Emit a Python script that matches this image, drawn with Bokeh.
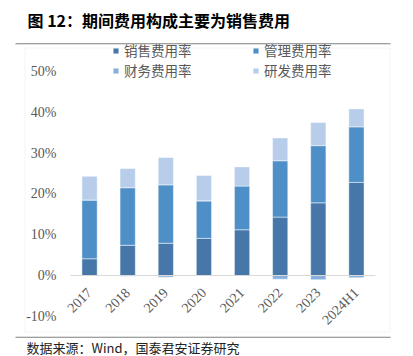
import math
from bokeh.plotting import figure
from bokeh.models import (Range1d, FixedTicker, PrintfTickFormatter,
                          Legend, LegendItem, Label, BoxAnnotation, ColumnDataSource)
from bokeh.embed import file_html
from bokeh.resources import INLINE

years = ["2017", "2018", "2019", "2020", "2021", "2022", "2023", "2024H1"]
sales = [4.1, 7.4, 7.9, 9.1, 11.2, 14.3, 17.8, 22.8]
mgmt = [14.4, 14.1, 14.3, 9.2, 10.7, 13.8, 14.0, 13.6]
finance = [0.0, -0.2, -0.4, 0.0, -0.1, -0.9, -1.05, -0.55]
rnd = [5.8, 4.7, 6.7, 6.2, 4.7, 5.6, 5.7, 4.4]

series_names = ["销售费用率", "管理费用率", "财务费用率", "研发费用率"]
series_vals = [sales, mgmt, finance, rnd]
colors = ["#4677A8", "#4F8FC7", "#87B0DE", "#B7CDEA"]
y_ticks = [-10, 0, 10, 20, 30, 40, 50]

CJK = "Noto Sans CJK SC"
SERIF = "Liberation Serif"

W, H = 413, 356
xpos = list(range(len(years)))

p = figure(width=W, height=H, output_backend="svg", toolbar_location=None,
           x_range=Range1d(-2.336, 8.497), y_range=Range1d(-19.84, 67.35),
           min_border_left=0, min_border_right=0, min_border_top=0, min_border_bottom=0)
p.outline_line_color = None
p.xgrid.grid_line_color = None
p.ygrid.grid_line_color = None

# stack: positives upward, negatives downward (Excel style)
pos_base = [0.0] * len(years)
neg_base = [0.0] * len(years)
renderers = []
for name, vals, col in zip(series_names, series_vals, colors):
    bottoms, tops = [], []
    for i, v in enumerate(vals):
        if v >= 0:
            bottoms.append(pos_base[i]); tops.append(pos_base[i] + v); pos_base[i] += v
        else:
            bottoms.append(neg_base[i]); tops.append(neg_base[i] + v); neg_base[i] += v
    src = ColumnDataSource(dict(x=xpos, bottom=bottoms, top=tops))
    r = p.vbar(x="x", bottom="bottom", top="top", width=0.4, source=src,
               fill_color=col, line_color="white", line_width=0.8, line_alpha=0.6)
    renderers.append(r)

# axes
xa = p.xaxis[0]
xa.fixed_location = 0
xa.bounds = (-0.5, len(years) - 0.5)
xa.ticker = FixedTicker(ticks=xpos)
xa.major_label_overrides = {i: y for i, y in zip(xpos, years)}
xa.axis_line_color = "#D9D9D9"
xa.axis_line_width = 1
xa.major_tick_line_color = None
xa.minor_tick_line_color = None
xa.major_label_orientation = math.pi / 4
xa.major_label_text_font = SERIF
xa.major_label_text_font_size = "14px"
xa.major_label_text_color = "#595959"
xa.major_label_standoff = 9

ya = p.yaxis[0]
ya.fixed_location = -0.5
ya.ticker = FixedTicker(ticks=y_ticks)
ya.formatter = PrintfTickFormatter(format="%d%%")
ya.axis_line_color = None
ya.major_tick_line_color = None
ya.minor_tick_line_color = None
ya.major_label_text_font = SERIF
ya.major_label_text_font_size = "14px"
ya.major_label_text_color = "#595959"
ya.major_label_standoff = 8

# legend
items = [LegendItem(label=n, renderers=[r]) for n, r in zip(series_names, renderers)]
leg = Legend(items=items, orientation="horizontal", ncols=2, location=(112, 276),
             glyph_width=7, glyph_height=7, label_standoff=5, label_width=128,
             label_height=19, spacing=0, padding=0, margin=0,
             border_line_color=None, background_fill_alpha=0,
             label_text_font=CJK, label_text_font_size="13.5px",
             label_text_color="#595959")
p.add_layout(leg, "center")

def sbox(left, right, bottom, top, **kw):
    return BoxAnnotation(left=left, right=right, bottom=bottom, top=top,
                         left_units="screen", right_units="screen",
                         top_units="screen", bottom_units="screen", **kw)

# frame box and rules (screen units, origin bottom-left of canvas)
p.add_layout(sbox(24.5, 389.5, H - 331.5, H - 47.5, fill_alpha=0,
                  line_color="#D9D9D9", line_width=1))
p.add_layout(sbox(15, 390, H - 43.8, H - 42.8, fill_color="#7F7F7F", fill_alpha=1, line_color=None))
p.add_layout(sbox(15, 390, H - 337.3, H - 336.3, fill_color="#7F7F7F", fill_alpha=1, line_color=None))

p.add_layout(Label(x=27, y=H - 19, x_units="screen", y_units="screen",
                   text="图 12：期间费用构成主要为销售费用", text_font=CJK,
                   text_font_size="16px", text_font_style="bold", text_color="#000000",
                   text_baseline="middle", text_align="left"))
p.add_layout(Label(x=26, y=H - 347, x_units="screen", y_units="screen",
                   text="数据来源：Wind，国泰君安证券研究", text_font=CJK,
                   text_font_size="13px", text_color="#222222",
                   text_baseline="middle", text_align="left"))

open("out.html", "w").write(file_html(p, INLINE))
